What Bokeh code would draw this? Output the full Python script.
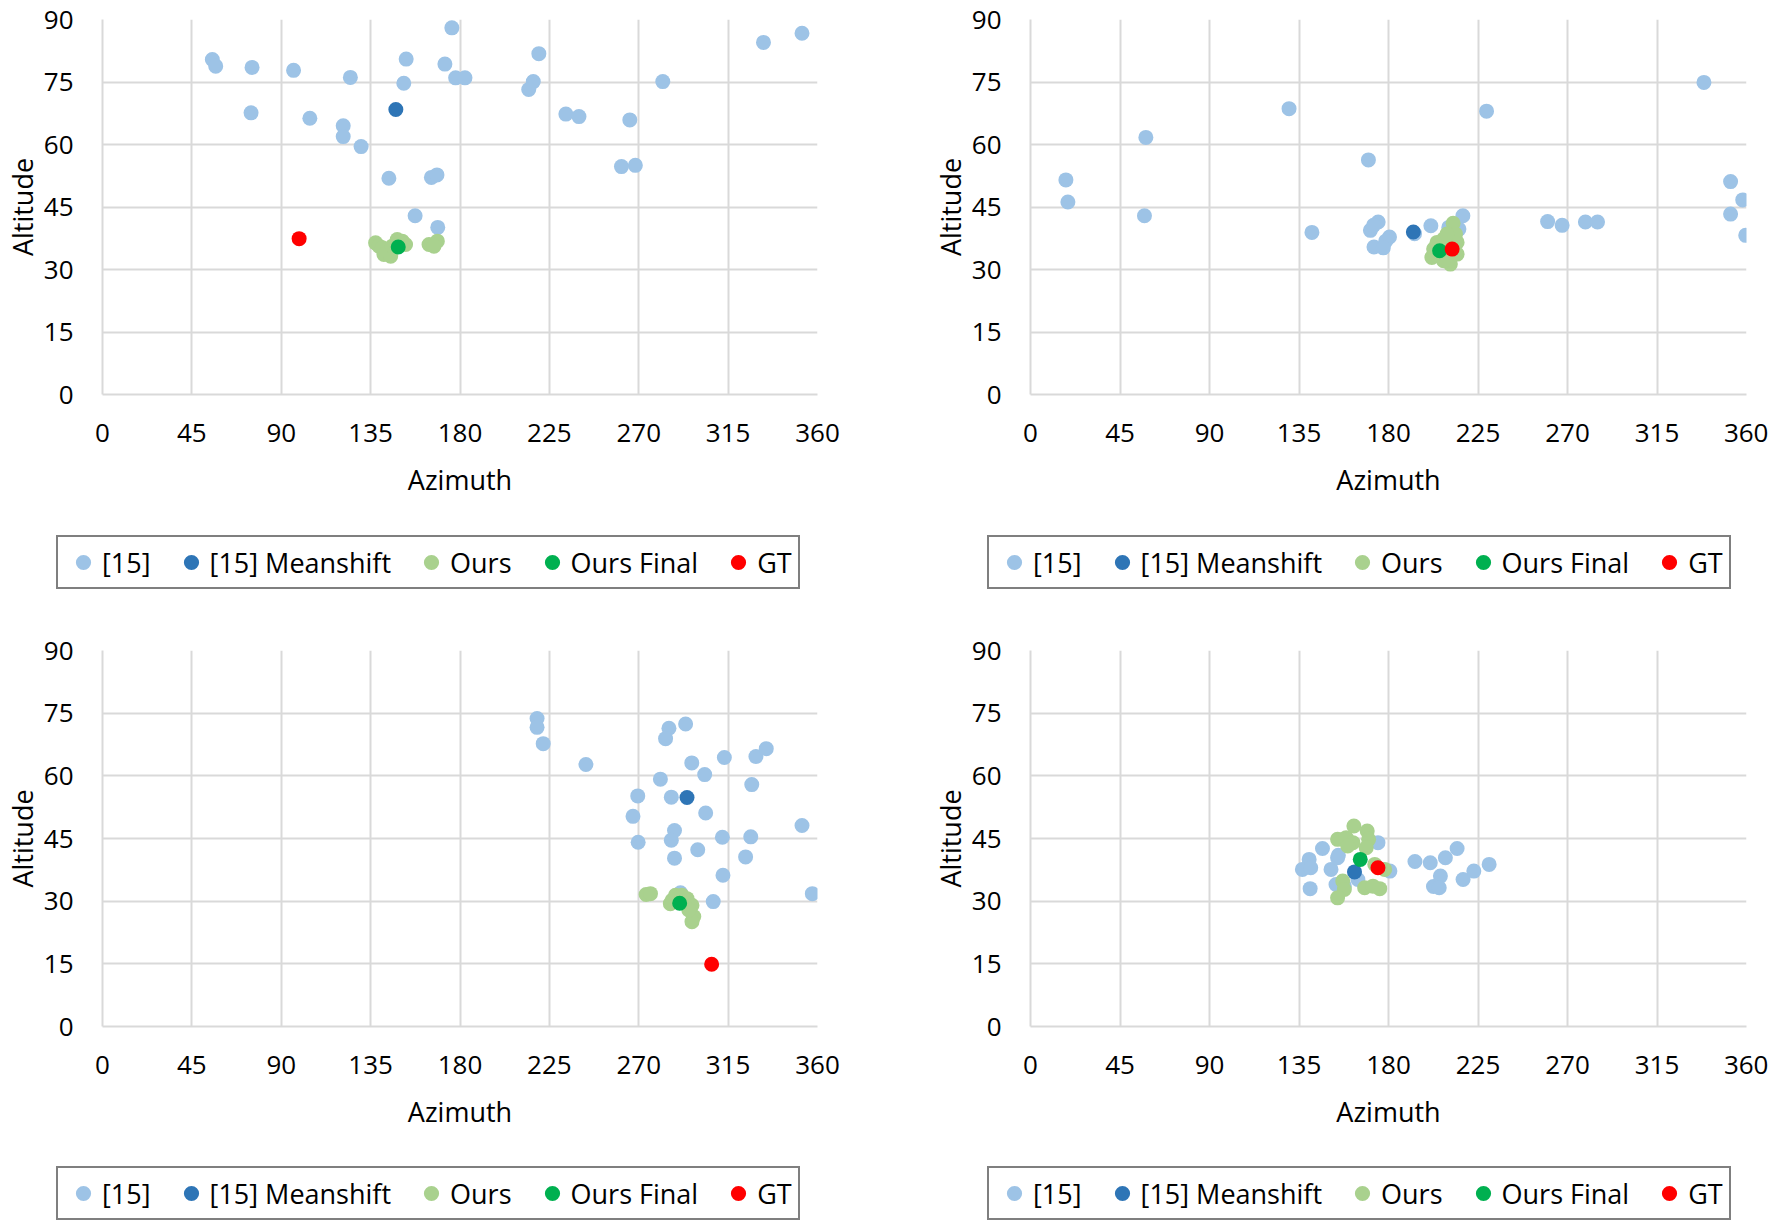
from bokeh.plotting import figure
from bokeh.models import Legend, LegendItem, FixedTicker, Range1d
from bokeh.layouts import column, row
from bokeh.embed import file_html
from bokeh.resources import INLINE

# ---------------- data ----------------
series_labels = ["[15]", "[15] Meanshift", "Ours", "Ours Final", "GT"]
series_colors = ["#9DC3E6", "#2E75B6", "#A9D18E", "#00B050", "#FF0000"]
az_ticks = [0, 45, 90, 135, 180, 225, 270, 315, 360]
alt_ticks = [0, 15, 30, 45, 60, 75, 90]

# Panel 1 (top-left)
p1_b15_az = [55.3, 57.0, 75.3, 96.2, 124.8, 152.9, 172.4, 175.9, 177.8, 182.5, 151.7,
             219.7, 216.9, 214.6, 282.1, 332.8, 352.2, 74.8, 104.4, 121.2, 121.2, 130.2,
             233.3, 239.9, 265.5, 144.2, 165.6, 168.4, 261.3, 268.3, 157.4, 168.8]
p1_b15_alt = [80.4, 78.8, 78.5, 77.8, 76.1, 80.5, 79.3, 88.0, 76.0, 76.0, 74.7,
              81.8, 75.1, 73.2, 75.1, 84.5, 86.7, 67.6, 66.3, 64.5, 61.9, 59.5,
              67.3, 66.7, 65.9, 51.9, 52.1, 52.7, 54.7, 55.0, 42.9, 40.1]
p1_ms_az = [147.7]
p1_ms_alt = [68.4]
p1_ours_az = [137.5, 139.2, 140.9, 141.7, 145.1, 145.9, 150.9, 152.6, 148.4, 164.4, 168.6, 166.9]
p1_ours_alt = [36.4, 35.6, 35.2, 33.6, 33.2, 35.6, 36.8, 36.0, 37.2, 36.0, 36.8, 35.6]
p1_final_az = [148.9]
p1_final_alt = [35.4]
p1_gt_az = [99.0]
p1_gt_alt = [37.4]

# Panel 2 (top-right)
p2_b15_az = [17.8, 18.8, 58.0, 57.3, 130.0, 169.9, 141.5, 170.9, 174.8, 172.5, 180.5,
             178.6, 172.7, 177.4, 193.1, 201.3, 217.4, 215.4, 210.3, 229.3, 260.0, 267.3,
             279.0, 285.1, 338.6, 352.0, 358.1, 352.0, 359.6]
p2_b15_alt = [51.5, 46.2, 61.7, 42.9, 68.6, 56.3, 38.9, 39.4, 41.4, 40.6, 37.8,
              36.8, 35.4, 35.2, 38.6, 40.5, 42.9, 39.7, 40.1, 68.0, 41.5, 40.6,
              41.4, 41.4, 74.9, 51.1, 46.7, 43.3, 38.2]
p2_ms_az = [192.5]
p2_ms_alt = [39.0]
p2_ours_az = [212.5, 202.7, 201.8, 211.1, 207.7, 214.5, 207.7, 204.4, 213.7, 209.4, 203.5, 214.5]
p2_ours_alt = [41.1, 34.9, 32.9, 31.3, 32.1, 36.5, 37.3, 36.5, 38.5, 38.5, 33.7, 33.7]
p2_final_az = [205.7]
p2_final_alt = [34.5]
p2_gt_az = [212.0]
p2_gt_alt = [34.9]

# Panel 3 (bottom-left)
p3_b15_az = [218.8, 218.8, 221.9, 243.4, 285.2, 293.6, 283.5, 296.7, 313.1, 329.0, 334.2,
             280.9, 303.2, 326.9, 269.5, 286.4, 267.1, 303.7, 288.0, 286.4, 269.7, 312.1,
             326.4, 352.2, 299.7, 288.0, 323.8, 312.4, 307.5, 357.4, 291.0]
p3_b15_alt = [73.7, 71.6, 67.7, 62.7, 71.4, 72.4, 68.9, 63.1, 64.4, 64.6, 66.5,
              59.2, 60.3, 57.9, 55.2, 54.9, 50.3, 51.1, 46.9, 44.6, 44.1, 45.3,
              45.4, 48.1, 42.3, 40.3, 40.6, 36.2, 29.9, 31.8, 32.0]
p3_ms_az = [294.3]
p3_ms_alt = [54.8]
p3_ours_az = [273.7, 275.9, 286.8, 288.5, 294.3, 296.8, 297.7, 296.8, 285.9, 291.8, 295.2]
p3_ours_alt = [31.6, 31.8, 30.2, 31.4, 30.6, 29.0, 26.3, 25.1, 29.4, 31.4, 27.9]
p3_final_az = [290.6]
p3_final_alt = [29.5]
p3_gt_az = [306.7]
p3_gt_alt = [14.9]

# Panel 4 (bottom-right)
p4_b15_az = [146.8, 140.1, 136.7, 140.9, 140.6, 151.1, 154.4, 153.6, 157.8, 174.7, 180.7,
             164.6, 193.3, 201.0, 208.6, 214.5, 206.1, 202.6, 205.5, 217.5, 222.9, 230.6,
             154.8]
p4_b15_alt = [42.6, 40.0, 37.6, 38.0, 33.0, 37.6, 40.4, 34.0, 33.6, 44.0, 37.2,
              35.2, 39.5, 39.2, 40.4, 42.6, 36.0, 33.5, 33.2, 35.2, 37.2, 38.8,
              41.0]
p4_ms_az = [162.9]
p4_ms_alt = [37.0]
p4_ours_az = [162.6, 169.3, 170.0, 168.8, 154.4, 158.7, 162.1, 159.5, 157.0, 157.8, 154.4,
              173.1, 178.1, 168.0, 175.6, 172.2]
p4_ours_alt = [48.0, 46.8, 44.8, 42.8, 44.8, 45.2, 44.0, 43.2, 34.8, 32.8, 30.8,
               38.8, 37.6, 33.2, 33.0, 33.6]
p4_final_az = [165.8]
p4_final_alt = [40.0]
p4_gt_az = [174.7]
p4_gt_alt = [38.0]

FONT = "Open Sans"


def make_panel(series, width, height, mb_right, mb_top, mb_bottom):
    p = figure(width=width, height=height, output_backend="svg", toolbar_location=None,
               x_range=Range1d(0, 360), y_range=Range1d(0, 90),
               min_border_left=102, min_border_right=mb_right,
               min_border_top=mb_top, min_border_bottom=mb_bottom,
               x_axis_label="Azimuth", y_axis_label="Altitude")
    p.outline_line_color = None
    p.background_fill_color = "white"
    p.border_fill_color = "white"

    p.xaxis.ticker = FixedTicker(ticks=az_ticks)
    p.yaxis.ticker = FixedTicker(ticks=alt_ticks)
    p.xgrid.ticker = FixedTicker(ticks=az_ticks)
    p.ygrid.ticker = FixedTicker(ticks=alt_ticks)
    for g in (p.xgrid, p.ygrid):
        g.grid_line_color = "#D9D9D9"
        g.grid_line_width = 2
    for ax in (p.xaxis, p.yaxis):
        ax.axis_line_color = "#D9D9D9"
        ax.axis_line_width = 2
        ax.major_tick_in = 0
        ax.major_tick_out = 0
        ax.minor_tick_in = 0
        ax.minor_tick_out = 0
        ax.major_label_text_font = FONT
        ax.major_label_text_font_size = "26px"
        ax.major_label_text_color = "black"
        ax.axis_label_text_font = FONT
        ax.axis_label_text_font_size = "27px"
        ax.axis_label_text_font_style = "normal"
        ax.axis_label_text_color = "black"
    p.xaxis.major_label_standoff = 29
    p.xaxis.axis_label_standoff = 16
    p.yaxis.major_label_standoff = 29
    p.yaxis.axis_label_standoff = 0

    for (az, alt), color in zip(series, series_colors):
        p.scatter(az, alt, size=15, marker="circle", fill_color=color,
                  line_color=color, line_width=0)
    return p


def make_legend_fig(width, height, off_left, off_top):
    lf = figure(width=width, height=height, output_backend="svg", toolbar_location=None,
                x_range=Range1d(0, 1), y_range=Range1d(0, 1),
                x_axis_location=None, y_axis_location=None,
                min_border_left=off_left, min_border_right=0,
                min_border_top=off_top, min_border_bottom=0)
    lf.outline_line_color = None
    lf.grid.visible = False
    lf.background_fill_color = "white"
    lf.border_fill_color = "white"
    items = []
    for label, color in zip(series_labels, series_colors):
        # legend-only renderer (NaN point, nothing is plotted)
        r = lf.scatter(x=[float("nan")], y=[float("nan")], size=15, marker="circle",
                       fill_color=color, line_color=color, line_width=0)
        items.append(LegendItem(label=label, renderers=[r]))
    legend = Legend(items=items, orientation="horizontal", location="top_left",
                    border_line_color="black", border_line_width=2.5,
                    background_fill_color="white", background_fill_alpha=1.0,
                    padding=6, spacing=21, margin=0,
                    glyph_width=38, glyph_height=38, label_standoff=0,
                    label_text_font=FONT, label_text_font_size="27px",
                    label_text_color="black")
    lf.add_layout(legend, "center")
    return lf


p1 = make_panel([(p1_b15_az, p1_b15_alt), (p1_ms_az, p1_ms_alt), (p1_ours_az, p1_ours_alt),
                 (p1_final_az, p1_final_alt), (p1_gt_az, p1_gt_alt)],
                928, 500, 111, 19, 105)
p2 = make_panel([(p2_b15_az, p2_b15_alt), (p2_ms_az, p2_ms_alt), (p2_ours_az, p2_ours_alt),
                 (p2_final_az, p2_final_alt), (p2_gt_az, p2_gt_alt)],
                840, 500, 22, 19, 105)
p3 = make_panel([(p3_b15_az, p3_b15_alt), (p3_ms_az, p3_ms_alt), (p3_ours_az, p3_ours_alt),
                 (p3_final_az, p3_final_alt), (p3_gt_az, p3_gt_alt)],
                928, 510, 111, 28, 105)
p4 = make_panel([(p4_b15_az, p4_b15_alt), (p4_ms_az, p4_ms_alt), (p4_ours_az, p4_ours_alt),
                 (p4_final_az, p4_final_alt), (p4_gt_az, p4_gt_alt)],
                840, 510, 22, 28, 105)

l1 = make_legend_fig(928, 122, 56, 35)
l2 = make_legend_fig(840, 122, 59, 35)
l3 = make_legend_fig(928, 90, 56, 34)
l4 = make_legend_fig(840, 90, 59, 34)

layout = column(row(p1, p2), row(l1, l2), row(p3, p4), row(l3, l4))

open("out.html", "w").write(file_html(layout, INLINE))
